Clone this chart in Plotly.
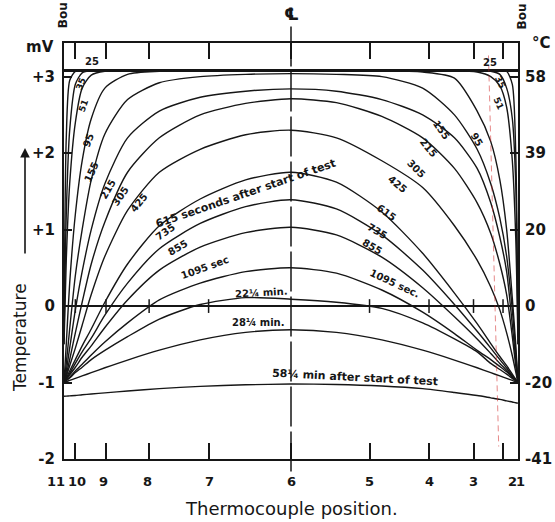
import plotly.graph_objects as go

# Thermocouple stations across the slab: x = -1 left boundary, 0 centre line, +1 right boundary
STATION_NAMES = ["11", "10", "9", "8", "7", "6", "5", "4", "3", "2", "1"]
STATION_X = [-1.0, -0.95, -0.815, -0.625, -0.363, 0.0, 0.346, 0.608, 0.804, 0.934, 1.0]
STATION_LABEL_X = [-1.035, -0.943, -0.824, -0.63, -0.361, 0.0, 0.348, 0.612, 0.802, 0.974, 1.013]

# Temperature scales (thermocouple e.m.f. in mV on the left, degrees C on the right)
MV_TICKS = [-2, -1, 0, 1, 2, 3]
MV_TEXT = ["-2", "-1", "0", "+1", "+2", "+3"]
DEGC_TEXT = ["-41", "-20", "0", "20", "39", "58"]

INITIAL_MV = 3.08   # uniform starting temperature

# Profiles read along the slab, in mV
GRID_X = [-1.0, -0.99, -0.975, -0.95, -0.92, -0.88, -0.82, -0.72, -0.58, -0.4, -0.2, 0.0,
          0.2, 0.4, 0.58, 0.72, 0.82, 0.88, 0.92, 0.95, 0.975, 0.99, 1.0]

mv_25s = [-0.45, 2.2, 2.95, 3.07, 3.08, 3.08, 3.08, 3.08, 3.08, 3.08, 3.08, 3.08,
          3.08, 3.08, 3.08, 3.08, 3.08, 3.08, 3.08, 3.07, 2.9, 2.0, -0.4]
mv_35s = [-0.5, 1.2, 2.3, 2.9, 3.05, 3.08, 3.08, 3.08, 3.08, 3.08, 3.08, 3.08,
          3.08, 3.08, 3.08, 3.08, 3.08, 3.07, 3.03, 2.85, 2.45, 1.6, -0.5]
mv_51s = [-0.5, 0.6, 1.6, 2.4, 2.85, 3.02, 3.07, 3.08, 3.08, 3.08, 3.08, 3.08,
          3.08, 3.08, 3.08, 3.08, 3.06, 3.0, 2.88, 2.6, 1.9, 0.9, -0.5]
mv_95s = [-1.0, -0.5, 0.3, 1.2, 1.9, 2.45, 2.85, 3.03, 3.07, 3.08, 3.08, 3.08,
          3.08, 3.08, 3.06, 2.98, 2.55, 2.15, 1.65, 1.0, 0.1, -0.5, -1.0]
mv_155s = [-1.0, -0.75, -0.3, 0.4, 1.0, 1.65, 2.25, 2.7, 2.92, 3.0, 3.03, 3.04,
           3.03, 3.0, 2.85, 2.5, 2.05, 1.6, 1.15, 0.65, -0.05, -0.6, -1.0]
mv_215s = [-1.0, -0.85, -0.55, -0.05, 0.45, 1.0, 1.6, 2.2, 2.55, 2.73, 2.81, 2.84,
           2.81, 2.7, 2.5, 2.2, 1.8, 1.35, 0.9, 0.45, -0.25, -0.7, -1.0]
mv_305s = [-1.0, -0.9, -0.7, -0.35, 0.05, 0.55, 1.1, 1.75, 2.2, 2.5, 2.65, 2.71,
           2.66, 2.48, 2.2, 1.8, 1.35, 0.95, 0.55, 0.15, -0.4, -0.78, -1.0]
mv_425s = [-1.0, -0.92, -0.78, -0.55, -0.25, 0.15, 0.65, 1.25, 1.75, 2.05, 2.24, 2.30,
           2.2, 1.9, 1.55, 1.05, 0.6, 0.25, -0.05, -0.35, -0.65, -0.86, -1.0]
mv_615s = [-1.0, -0.94, -0.85, -0.7, -0.52, -0.3, 0.05, 0.55, 1.05, 1.4, 1.65, 1.75,
           1.62, 1.23, 0.69, 0.17, -0.23, -0.49, -0.66, -0.78, -0.89, -0.96, -1.0]
mv_735s = [-1.0, -0.95, -0.88, -0.75, -0.6, -0.42, -0.12, 0.3, 0.75, 1.08, 1.3, 1.39,
           1.27, 0.93, 0.47, 0.02, -0.33, -0.55, -0.7, -0.81, -0.91, -0.96, -1.0]
mv_855s = [-1.0, -0.96, -0.9, -0.8, -0.67, -0.52, -0.28, 0.08, 0.47, 0.77, 0.96, 1.03,
           0.93, 0.64, 0.24, -0.14, -0.43, -0.62, -0.75, -0.84, -0.92, -0.97, -1.0]
mv_1095s = [-1.0, -0.97, -0.93, -0.85, -0.76, -0.64, -0.47, -0.22, 0.08, 0.3, 0.45, 0.50,
            0.43, 0.21, -0.08, -0.36, -0.58, -0.70, -0.79, -0.86, -0.93, -0.97, -1.0]
mv_22min = [-1.0, -0.975, -0.94, -0.87, -0.8, -0.7, -0.58, -0.4, -0.17, 0.02, 0.11, 0.09,
            0.05, -0.03, -0.22, -0.43, -0.6, -0.75, -0.83, -0.89, -0.945, -0.98, -1.0]
mv_28min = [-1.0, -0.989, -0.973, -0.946, -0.914, -0.871, -0.807, -0.706, -0.577, -0.442, -0.344, -0.31,
            -0.344, -0.442, -0.577, -0.706, -0.807, -0.871, -0.914, -0.946, -0.973, -0.989, -1.0]
mv_58min = [-1.18, -1.178, -1.175, -1.17, -1.16, -1.15, -1.135, -1.11, -1.08, -1.05, -1.03, -1.02,
            -1.025, -1.045, -1.08, -1.13, -1.17, -1.2, -1.22, -1.24, -1.255, -1.265, -1.27]

PROFILES = [mv_25s, mv_35s, mv_51s, mv_95s, mv_155s, mv_215s, mv_305s, mv_425s,
            mv_615s, mv_735s, mv_855s, mv_1095s, mv_22min, mv_28min, mv_58min]

# Hand-lettered curve captions: (text, x, mV, angle, size)
CAPTIONS = [
    ("25", -0.875, 3.2, 0, 10), ("35", -0.925, 2.9, -70, 9), ("51", -0.915, 2.62, -70, 9),
    ("95", -0.894, 2.17, -70, 10), ("155", -0.881, 1.75, -65, 10), ("215", -0.806, 1.52, -60, 10),
    ("305", -0.749, 1.44, -55, 10), ("425", -0.670, 1.36, -50, 10),
    ("615 seconds after start of test", -0.198, 1.47, -19, 11),
    ("735", -0.551, 0.97, -35, 10), ("855", -0.498, 0.77, -30, 10),
    ("1095 sec", -0.379, 0.50, -20, 10), ("22¼ min.", -0.128, 0.18, -3, 10),
    ("28¼ min.", -0.145, -0.21, 0, 10), ("58¼ min after start of test", 0.282, -0.93, 3, 11),
    ("25", 0.877, 3.19, 0, 10), ("35", 0.921, 2.93, 65, 9), ("51", 0.912, 2.65, 65, 9),
    ("95", 0.819, 2.18, 60, 10), ("155", 0.665, 2.30, 55, 10), ("215", 0.604, 2.07, 50, 10),
    ("305", 0.551, 1.80, 45, 10), ("425", 0.471, 1.59, 40, 10), ("615", 0.419, 1.22, 35, 10),
    ("735", 0.383, 0.98, 30, 10), ("855", 0.357, 0.78, 30, 10), ("1095 sec.", 0.458, 0.30, 25, 10),
]

INK = "#161616"
FONT = "DejaVu Sans"

fig = go.Figure()

# initial uniform temperature and the 0 mV datum
fig.add_trace(go.Scatter(x=[-1, 1], y=[INITIAL_MV, INITIAL_MV], mode="lines",
                         line=dict(color=INK, width=3), hoverinfo="skip", showlegend=False))
fig.add_trace(go.Scatter(x=[-1, 1], y=[0, 0], mode="lines",
                         line=dict(color=INK, width=2), hoverinfo="skip", showlegend=False))

for prof in PROFILES:
    fig.add_trace(go.Scatter(x=GRID_X, y=prof, mode="lines",
                             line=dict(color=INK, width=1.4, shape="spline", smoothing=0.7),
                             hoverinfo="skip", showlegend=False))

# carrier for the right-hand degC scale
fig.add_trace(go.Scatter(x=[0], y=[0], yaxis="y2", mode="markers",
                         marker=dict(opacity=0), hoverinfo="skip", showlegend=False))

shapes = []
# station ticks on the datum line
for sx in STATION_X[1:-1]:
    if sx == 0.0:
        continue
    shapes.append(dict(type="line", xref="x", yref="y", x0=sx, x1=sx, y0=-0.09, y1=0.09,
                       line=dict(color=INK, width=1.5)))
# centre line of the slab
shapes.append(dict(type="line", xref="x", yref="paper", x0=0, x1=0, y0=-0.03, y1=1.045,
                   line=dict(color=INK, width=1.5, dash="40px,5px")))
# pencilled red line near station 2
shapes.append(dict(type="line", xref="x", yref="paper", x0=0.87, x1=0.915, y0=0.97, y1=0.03,
                   line=dict(color="rgba(210,40,40,0.55)", width=1, dash="6px,4px")))


def note(x, y, text, xref="paper", yref="paper", size=12, angle=0, bold=True):
    return dict(x=x, y=y, xref=xref, yref=yref, text=text, showarrow=False, textangle=angle,
                xanchor="center", yanchor="middle",
                font=dict(family=FONT, size=size, color=INK, weight="bold" if bold else "normal"))


ann = []
for text, x, y, ang, size in CAPTIONS:
    ann.append(note(x, y, text, xref="x", yref="y", size=size, angle=ang))

# station numbers under the axis (placed on the paper so the end ones sit past the frame)
for name, lx in zip(STATION_NAMES, STATION_LABEL_X):
    ann.append(note((lx + 1) / 2, -0.055, name, size=13))

ann += [
    note(0.5, -0.118, "Thermocouple position.", size=18, bold=False),
    note(-0.097, 0.293, "Temperature", size=17, angle=-90, bold=False),
    dict(x=-0.0859, y=0.7476, xref="paper", yref="paper", text="", showarrow=True,
         ax=0, ay=107, arrowhead=2, arrowsize=1.2, arrowwidth=1.6, arrowcolor=INK),
    note(-0.053, 0.99, "mV", size=15),
    note(1.051, 1.0, "°C", size=15),
    note(-0.002, 1.067, "Bou", size=12, angle=-90),
    note(1.009, 1.064, "Bou", size=12, angle=-90),
    note(0.5, 1.069, "℄", size=17),
]

fig.update_layout(
    width=555, height=522,
    margin=dict(l=64, r=37, t=43, b=63, autoexpand=False),
    paper_bgcolor="white", plot_bgcolor="white",
    shapes=shapes, annotations=ann,
    xaxis=dict(range=[-1, 1], showgrid=False, zeroline=False, showline=True, linecolor=INK,
               linewidth=2, mirror="ticks", ticks="inside", ticklen=16, tickwidth=1.5,
               tickcolor=INK, tickvals=STATION_X[1:-1], showticklabels=False, automargin=False),
    yaxis=dict(range=[-2, 3.44], showgrid=False, zeroline=False, showline=True, linecolor=INK,
               linewidth=2, mirror=True, ticks="inside", ticklen=8, tickwidth=1.5, tickcolor=INK,
               tickvals=MV_TICKS, ticktext=MV_TEXT, ticklabelstandoff=4, automargin=False,
               tickfont=dict(family=FONT, size=15, color=INK, weight="bold")),
    yaxis2=dict(range=[-2, 3.44], overlaying="y", side="right", showgrid=False, zeroline=False,
                showline=False, ticks="inside", ticklen=8, tickwidth=1.5, tickcolor=INK,
                tickvals=MV_TICKS, ticktext=DEGC_TEXT, ticklabelstandoff=6, automargin=False,
                tickfont=dict(family=FONT, size=15, color=INK, weight="bold")),
)

fig.write_html("out.html")
